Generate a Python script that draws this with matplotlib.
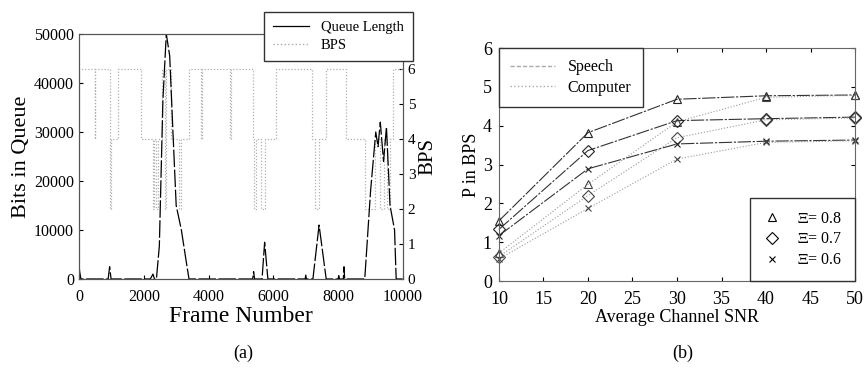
import matplotlib.pyplot as plt
from matplotlib.lines import Line2D

plt.rcParams['font.family'] = ['Liberation Serif', 'DejaVu Serif']
plt.rcParams['mathtext.fontset'] = 'stix'

# (a) queue length and BPS over time
q_frame = [0, 20, 60, 900, 946, 990, 2200, 2284, 2330, 2390, 2480, 2590, 2695, 2800,
           2900, 3000, 3160, 3300, 3395, 5360, 5390, 5420, 5650, 5730, 5830, 6980, 7000,
           7020, 7220, 7410, 7630, 8000, 8020, 8040, 8160, 8180, 8200, 8820, 9000, 9160,
           9230, 9300, 9400, 9490, 9600, 9740, 9790, 10000]
q_bits = [3000, 1500, 0, 0, 2500, 0, 0, 1000, 0, 0, 6700, 36500, 50000, 45500,
          30000, 15000, 10000, 4000, 0, 0, 1500, 0, 0, 7500, 0, 0, 800,
          0, 0, 11000, 0, 0, 700, 0, 0, 2500, 0, 0, 18000, 30000,
          27000, 32000, 24000, 31000, 15000, 10000, 0, 0]

bps_frame = [0, 10, 480, 500, 946, 980, 1200, 1924, 2284, 2330, 2390, 2440, 2560, 2640,
             2700, 2830, 3100, 3160, 3395, 3776, 3810, 4650, 4690, 5370, 5390, 5470,
             5630, 5730, 6090, 7200, 7290, 7420, 7630, 8250, 8820, 9125, 9300, 9400,
             9500, 9600, 9700, 10000]
bps_val = [0, 6, 4, 6, 2, 4, 6, 4, 2, 4, 2, 4, 6, 2,
           6, 4, 2, 4, 6, 4, 6, 4, 6, 4, 2, 4,
           2, 4, 6, 4, 2, 4, 6, 4, 2, 4, 2, 4,
           2, 4, 6, 6]

# (b) P vs average channel SNR
snr = [10, 20, 30, 40, 50]
speech = {
    0.8: [1.55, 3.82, 4.68, 4.77, 4.79],
    0.7: [1.33, 3.36, 4.13, 4.18, 4.22],
    0.6: [1.17, 2.89, 3.53, 3.60, 3.63],
}
computer = {
    0.8: [0.72, 2.49, 4.10, 4.73, 4.78],
    0.7: [0.63, 2.20, 3.69, 4.15, 4.20],
    0.6: [0.57, 1.87, 3.14, 3.57, 3.61],
}
markers = {0.8: '^', 0.7: 'D', 0.6: 'x'}
msizes = {0.8: 6, 0.7: 6.5, 0.6: 5}

fig = plt.figure(figsize=(8.67, 3.73), dpi=100)

# ---- panel (a)
ax1 = fig.add_axes([0.0911, 0.252, 0.3737, 0.657])
ax2 = ax1.twinx()
ax2.step(bps_frame, bps_val, where='post', color='#b0b0b0', lw=0.9, dashes=(1, 1.5))
ax1.plot(q_frame, q_bits, color='black', lw=0.9, dashes=(14, 2))
ax1.set_zorder(ax2.get_zorder() + 1)
ax1.patch.set_visible(False)

ax1.set_xlim(0, 10000)
ax1.set_ylim(0, 50000)
ax2.set_ylim(0, 7)
ax1.set_xticks(range(0, 10001, 2000))
ax1.set_yticks(range(0, 50001, 10000))
ax2.set_yticks(range(0, 7))
ax1.tick_params(direction='in', labelsize=11.5, length=3)
ax1.tick_params(axis='x', pad=7)
ax2.tick_params(direction='in', labelsize=11, length=3)
ax1.set_xlabel('Frame Number', fontsize=17, labelpad=1)
ax1.set_ylabel('Bits in Queue', fontsize=16, labelpad=2)
ax2.set_ylabel('BPS', fontsize=15, labelpad=2)
for a in (ax1, ax2):
    for s in a.spines.values():
        s.set_color('#555555')
        s.set_linewidth(0.8)

handles_a = [Line2D([], [], color='black', lw=0.9),
             Line2D([], [], color='#aaaaaa', lw=1.0, ls=':')]
fig.legend(handles_a, ['Queue Length', 'BPS'], loc='upper right',
           bbox_to_anchor=(420 / 867, 1 - 5 / 373), fontsize=10.5,
           fancybox=False, edgecolor='#333333', framealpha=1,
           handlelength=2.5, borderpad=0.6, labelspacing=0.3)

fig.text(243 / 867, 1 - 353 / 373, '(a)', ha='center', va='center', fontsize=13)

# ---- panel (b)
ax3 = fig.add_axes([0.5755, 0.2466, 0.4107, 0.6247])
for xi in (0.8, 0.7, 0.6):
    ax3.plot(snr, speech[xi], color='#333333', lw=0.8, dashes=(12, 1.5, 2, 1.5),
             marker=markers[xi], ms=msizes[xi], mfc='none', mec='#222222', mew=0.8,
             clip_on=False)
    ax3.plot(snr, computer[xi], color='#999999', lw=0.8, ls=':',
             marker=markers[xi], ms=msizes[xi], mfc='none', mec='#444444', mew=0.8,
             clip_on=False)

ax3.set_xlim(10, 50)
ax3.set_ylim(0, 6)
ax3.set_xticks(range(10, 51, 5))
ax3.set_yticks(range(0, 7))
ax3.tick_params(direction='in', labelsize=13, length=3, top=True, right=True)
ax3.tick_params(axis='x', pad=7)
ax3.tick_params(axis='y', pad=5)
ax3.set_xlabel('Average Channel SNR', fontsize=13, labelpad=1)
ax3.set_ylabel('P in BPS', fontsize=13, labelpad=2)
for s in ax3.spines.values():
    s.set_color('#666666')
    s.set_linewidth(0.8)

h_type = [Line2D([], [], color='#aaaaaa', lw=1.0, dashes=(3, 1.5)),
          Line2D([], [], color='#aaaaaa', lw=1.0, ls=':')]
leg1 = ax3.legend(h_type, ['Speech', 'Computer'], loc='upper left',
                  bbox_to_anchor=(0, 1), borderaxespad=0, fontsize=11.5,
                  fancybox=False, edgecolor='#333333', framealpha=1,
                  handlelength=2.8, borderpad=0.7, labelspacing=0.3)
leg1.set_zorder(5)
ax3.add_artist(leg1)

xis = [0.8, 0.7, 0.6]
h_xi = [Line2D([], [], ls='none', marker=markers[x], ms=msizes[x], mfc='none',
               mec='black', mew=0.8) for x in xis]
leg2 = ax3.legend(h_xi, [r'$\Xi$= %.1f' % x for x in xis], loc='lower right',
                  bbox_to_anchor=(1, 0), borderaxespad=0, fontsize=11.5,
                  fancybox=False, edgecolor='#333333', framealpha=1,
                  handlelength=1.2, borderpad=0.8, labelspacing=0.3, handletextpad=1.0)
leg2.set_zorder(5)

fig.text(683 / 867, 1 - 353 / 373, '(b)', ha='center', va='center', fontsize=13)

fig.savefig('out.png', dpi=100)
